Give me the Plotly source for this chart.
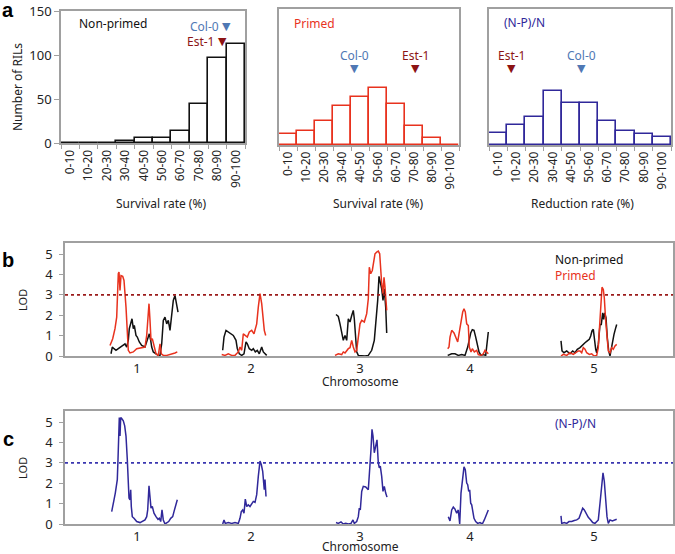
import plotly.graph_objects as go

# ---------------- data ----------------
bins = ["0-10", "10-20", "20-30", "30-40", "40-50", "50-60", "60-70", "70-80", "80-90", "90-100"]
nonprimed_counts = [0, 0, 0, 3, 6, 6, 14, 44, 97, 113]
primed_counts = [12, 15, 26, 43, 53, 63, 45, 21, 8, 0]
reduction_counts = [13, 22, 31, 60, 46, 46, 27, 15, 12, 9]

# parental values (%)
parent_nonprimed = {"Col-0": 90.0, "Est-1": 87.5}
parent_primed = {"Col-0": 42.0, "Est-1": 76.0}
parent_reduction = {"Col-0": 51.0, "Est-1": 12.5}

chrom_names = ["1", "2", "3", "4", "5"]
chrom_tick = [72, 186, 295, 405, 529]
lod_threshold = 3.0

# Non-primed LOD (genome position, LOD)
np_pos_1 = [46.0, 47.3, 49.0, 51.0, 53.3, 55.7, 57.7, 60.0, 61.7, 63.3, 64.3, 65.7, 67.0, 68.3, 69.3, 71.0, 72.3, 74.3, 76.7, 80.0, 82.3, 84.3, 85.7, 86.7, 88.3, 91.0, 93.3, 95.0, 96.7, 98.3, 100.0, 101.7, 103.3, 105.0, 106.7, 108.3, 110.0, 111.7, 113.0]
np_lod_1 = [0.11, 0.44, 0.36, 0.28, 0.36, 0.44, 0.52, 0.60, 0.44, 0.77, 1.34, 1.58, 1.83, 1.34, 1.50, 1.01, 0.93, 0.69, 0.52, 0.44, 0.85, 1.09, 0.77, 0.44, 0.20, 0.11, 0.03, 0.03, 0.60, 1.75, 1.91, 1.58, 1.75, 1.26, 1.91, 2.73, 2.97, 2.57, 2.16]
np_pos_2 = [157.7, 159.0, 161.0, 163.3, 165.7, 168.3, 171.0, 172.3, 174.3, 176.7, 179.0, 181.0, 182.3, 184.3, 186.7, 188.3, 190.3, 192.3, 194.3, 196.7, 198.3, 201.7]
np_lod_2 = [0.28, 0.93, 1.26, 1.18, 1.09, 1.01, 0.77, 0.36, 0.11, 0.03, 0.11, 0.69, 0.60, 0.36, 0.28, 0.36, 0.20, 0.28, 0.11, 0.44, 0.20, 0.03]
np_pos_3 = [271.0, 273.3, 275.0, 276.7, 278.3, 280.0, 281.7, 283.3, 285.0, 286.7, 288.3, 289.3, 290.7, 291.7, 293.3, 296.7, 300.0, 303.3, 306.7, 309.3, 311.0, 312.7, 314.0, 315.0, 316.7, 318.0, 319.3, 320.7, 321.7]
np_lod_3 = [2.04, 1.94, 1.58, 1.18, 0.77, 1.01, 0.77, 1.83, 1.67, 1.99, 2.24, 1.83, 0.77, 0.20, 0.03, 0.00, 0.00, 0.03, 0.28, 0.77, 1.58, 2.73, 3.91, 3.71, 3.30, 2.73, 3.30, 2.40, 1.13]
np_pos_4 = [382.7, 386.7, 390.0, 393.3, 396.7, 400.0, 402.7, 404.3, 405.7, 407.3, 409.0, 410.7, 412.3, 414.0, 416.0, 418.3, 420.7, 422.3, 423.3]
np_lod_4 = [0.03, 0.11, 0.11, 0.03, 0.07, 0.03, 0.44, 0.85, 1.13, 1.29, 1.26, 0.93, 0.52, 0.20, 0.03, 0.07, 0.03, 0.60, 1.18]
np_pos_5 = [496.0, 497.0, 499.0, 501.7, 505.0, 507.7, 510.0, 512.3, 515.0, 517.7, 520.0, 522.3, 524.3, 525.7, 527.0, 528.3, 529.3, 530.7, 531.7, 533.3, 535.0, 536.3, 537.7, 538.7, 539.7, 541.0, 542.3, 543.7, 545.0, 546.3, 547.7, 549.0, 550.3, 551.7]
np_lod_5 = [0.74, 0.25, 0.16, 0.25, 0.11, 0.25, 0.16, 0.33, 0.41, 0.57, 0.65, 0.74, 0.82, 0.98, 1.23, 1.31, 0.74, 0.33, 0.16, 0.57, 1.55, 1.55, 2.12, 1.80, 2.12, 1.88, 0.90, 0.25, 0.00, 0.41, 0.74, 1.06, 1.31, 1.55]

# Primed LOD
pr_pos_1 = [45.0, 47.7, 50.0, 51.7, 53.3, 54.0, 55.0, 56.0, 57.7, 59.0, 61.0, 62.3, 63.3, 65.0, 68.3, 71.7, 76.7, 80.0, 81.7, 84.0, 85.0, 86.0, 87.3, 89.0, 91.0, 93.3, 95.0, 96.3, 98.3, 101.7, 106.7, 110.0, 112.3]
pr_lod_1 = [0.52, 0.85, 1.34, 1.91, 4.04, 4.12, 3.22, 3.95, 3.91, 3.71, 2.40, 0.93, 0.28, 0.15, 0.20, 0.36, 0.41, 0.44, 1.01, 2.57, 1.75, 0.77, 0.85, 0.44, 0.11, 0.03, 0.60, 0.11, 0.03, 0.03, 0.08, 0.15, 0.20]
pr_pos_2 = [156.7, 160.0, 163.3, 166.7, 170.0, 173.3, 175.0, 176.7, 178.3, 180.7, 182.3, 184.3, 186.7, 189.0, 191.7, 193.3, 195.0, 196.7, 198.3, 199.3, 200.7]
pr_lod_2 = [0.07, 0.03, 0.11, 0.03, 0.03, 0.20, 0.44, 0.28, 1.09, 1.01, 0.93, 1.18, 1.26, 1.09, 1.58, 2.40, 3.06, 2.57, 1.91, 1.26, 1.01]
pr_pos_3 = [270.0, 273.3, 276.7, 278.3, 280.0, 281.7, 283.3, 285.0, 286.7, 288.3, 290.0, 291.7, 293.3, 295.0, 296.7, 299.3, 301.7, 303.3, 304.3, 305.7, 307.3, 308.7, 310.0, 311.7, 313.3, 314.7, 315.7, 316.7, 318.0, 319.0, 320.0, 321.0, 321.7]
pr_lod_3 = [0.03, 0.11, 0.07, 0.20, 0.15, 0.28, 0.36, 0.41, 0.77, 0.44, 0.20, 0.28, 0.85, 1.58, 1.75, 1.67, 2.08, 2.81, 4.36, 4.04, 4.20, 4.69, 5.02, 5.10, 5.15, 5.02, 4.04, 3.55, 3.06, 3.87, 3.38, 2.48, 2.24]
pr_pos_4 = [382.7, 384.0, 385.0, 386.7, 389.0, 391.0, 392.7, 394.0, 396.0, 397.7, 399.0, 400.3, 401.7, 403.3, 404.3, 406.0, 407.3, 409.3, 411.7, 413.3, 416.0, 418.3, 420.0, 421.7, 423.3]
pr_lod_4 = [0.36, 0.44, 0.93, 1.26, 1.13, 0.85, 0.69, 1.09, 1.75, 2.16, 2.32, 2.16, 1.58, 1.50, 0.44, 0.20, 0.36, 0.20, 0.28, 0.07, 0.03, 0.11, 0.28, 0.20, 0.11]
pr_pos_5 = [496.0, 498.3, 501.7, 505.0, 508.3, 511.0, 513.3, 515.0, 516.7, 518.3, 520.0, 521.7, 524.3, 526.7, 529.0, 531.7, 533.3, 534.3, 535.7, 537.0, 538.3, 539.3, 540.7, 542.0, 543.3, 545.0, 546.7, 548.3, 550.0, 551.7]
pr_lod_5 = [0.00, 0.08, 0.03, 0.16, 0.08, 0.16, 0.25, 0.25, 0.16, 0.41, 0.33, 0.16, 0.08, 0.11, 0.00, 0.03, 0.41, 1.23, 2.53, 3.38, 3.27, 2.86, 1.72, 0.74, 0.25, 0.16, 0.41, 0.33, 0.49, 0.57]

# (N-P)/N LOD
rd_pos_1 = [46.7, 47.7, 49.0, 50.3, 51.7, 52.3, 53.0, 53.7, 54.3, 55.0, 55.7, 56.7, 58.3, 59.7, 61.0, 62.3, 63.3, 64.0, 65.0, 65.7, 66.3, 67.3, 69.0, 71.7, 75.0, 77.7, 80.0, 81.7, 82.7, 84.0, 85.0, 86.0, 87.3, 89.0, 91.0, 93.0, 94.3, 95.7, 97.0, 98.3, 100.0, 101.7, 103.7, 105.7, 107.7, 109.0, 110.3, 112.3]
rd_lod_1 = [0.61, 0.94, 1.19, 1.52, 2.01, 2.18, 3.17, 4.65, 5.23, 4.32, 5.23, 5.18, 5.07, 4.82, 4.32, 3.17, 1.85, 1.27, 1.19, 1.68, 0.86, 0.36, 0.28, 0.12, 0.07, 0.12, 0.20, 0.36, 0.69, 1.88, 1.35, 0.78, 0.86, 0.53, 0.36, 0.23, 0.28, 0.12, 0.69, 0.20, 0.00, 0.07, 0.12, 0.28, 0.36, 0.61, 0.86, 1.19]
rd_pos_2 = [157.7, 159.0, 160.3, 163.3, 166.7, 170.0, 173.3, 175.0, 176.3, 177.7, 179.0, 180.3, 181.7, 183.3, 185.0, 186.7, 188.3, 190.0, 191.7, 193.3, 195.0, 196.3, 197.7, 198.7, 199.3, 200.0, 201.0]
rd_lod_2 = [0.00, 0.20, 0.03, 0.07, 0.03, 0.07, 0.03, 0.28, 0.61, 0.69, 0.53, 1.22, 0.86, 0.94, 0.86, 1.02, 1.11, 1.06, 1.44, 2.34, 3.09, 2.92, 2.59, 2.01, 1.68, 2.18, 1.35]
rd_pos_3 = [271.0, 273.3, 276.0, 278.3, 280.7, 283.3, 286.0, 288.0, 289.3, 291.7, 293.3, 294.3, 295.3, 296.7, 298.3, 300.7, 303.3, 305.0, 306.0, 307.0, 308.0, 309.3, 310.7, 312.0, 313.3, 314.3, 315.3, 316.7, 318.0, 319.3, 320.7, 322.0]
rd_lod_3 = [0.07, 0.03, 0.10, 0.00, 0.03, 0.00, 0.03, 0.20, 0.03, 0.12, 0.36, 0.78, 0.69, 1.60, 1.85, 1.82, 1.68, 2.67, 3.66, 4.65, 4.32, 3.50, 3.91, 4.13, 3.00, 2.76, 2.84, 2.34, 1.60, 1.85, 1.52, 1.32]
rd_pos_4 = [383.3, 385.0, 386.7, 388.3, 390.0, 391.7, 393.3, 394.7, 396.0, 397.7, 399.0, 400.3, 401.7, 402.7, 403.7, 404.7, 405.7, 406.7, 407.7, 409.0, 410.7, 412.7, 415.0, 417.3, 419.3, 421.0, 423.3]
rd_lod_4 = [0.36, 0.15, 0.69, 0.83, 0.73, 0.53, 0.69, 0.00, 1.52, 2.34, 2.81, 2.67, 2.01, 1.93, 1.60, 1.68, 1.02, 0.94, 0.53, 0.28, 0.12, 0.03, 0.07, 0.00, 0.20, 0.45, 0.69]
rd_pos_5 = [496.0, 496.7, 499.3, 501.7, 504.0, 506.7, 509.3, 511.7, 514.0, 516.0, 517.7, 519.3, 521.7, 523.3, 525.7, 527.7, 530.0, 531.7, 533.3, 535.0, 536.7, 538.0, 539.3, 540.7, 542.0, 543.3, 545.0, 547.3, 549.3, 551.7]
rd_lod_5 = [0.40, 0.03, 0.07, 0.03, 0.12, 0.12, 0.17, 0.20, 0.28, 0.53, 0.78, 0.69, 0.45, 0.33, 0.20, 0.07, 0.03, 0.12, 0.20, 1.02, 2.01, 2.51, 2.10, 1.19, 0.36, 0.03, 0.20, 0.15, 0.20, 0.23]

# ---------------- style ----------------
FONT = "Noto Sans"
BLACK = "#111111"
RED = "#e8321e"
NAVY = "#30289a"
COL0 = "#4f78b4"
EST1 = "#8c1414"
GRID = "#a0a0a0"
W, H = 675, 554


def px(x):
    return x / W


def py(y):
    return 1 - y / H


def join(pos_lists, lod_lists):
    xs, ys = [], []
    for p, l in zip(pos_lists, lod_lists):
        xs += list(p) + [None]
        ys += list(l) + [None]
    return xs, ys


fig = go.Figure()

# ---------- histograms ----------
hist_specs = [
    (nonprimed_counts, BLACK, "x", "y"),
    (primed_counts, RED, "x2", "y2"),
    (reduction_counts, NAVY, "x3", "y3"),
]
for counts, col, xa, ya in hist_specs:
    fig.add_trace(go.Bar(x=bins, y=counts, marker=dict(color="white", line=dict(color=col, width=1.6)),
                         xaxis=xa, yaxis=ya, showlegend=False, hoverinfo="x+y"))

# ---------- LOD curves ----------
x, y = join([np_pos_1, np_pos_2, np_pos_3, np_pos_4, np_pos_5], [np_lod_1, np_lod_2, np_lod_3, np_lod_4, np_lod_5])
fig.add_trace(go.Scatter(x=x, y=y, mode="lines", line=dict(color=BLACK, width=1.5), xaxis="x4", yaxis="y4",
                         showlegend=False, connectgaps=False))
x, y = join([pr_pos_1, pr_pos_2, pr_pos_3, pr_pos_4, pr_pos_5], [pr_lod_1, pr_lod_2, pr_lod_3, pr_lod_4, pr_lod_5])
fig.add_trace(go.Scatter(x=x, y=y, mode="lines", line=dict(color=RED, width=1.5), xaxis="x4", yaxis="y4",
                         showlegend=False, connectgaps=False))
x, y = join([rd_pos_1, rd_pos_2, rd_pos_3, rd_pos_4, rd_pos_5], [rd_lod_1, rd_lod_2, rd_lod_3, rd_lod_4, rd_lod_5])
fig.add_trace(go.Scatter(x=x, y=y, mode="lines", line=dict(color=NAVY, width=1.5), xaxis="x5", yaxis="y5",
                         showlegend=False, connectgaps=False))

tickfont = dict(family=FONT, size=12, color="#222")
hist_x = dict(type="category", tickangle=-90, tickson="boundaries", ticks="outside", ticklen=4,
              tickcolor=GRID, showline=True, linecolor=GRID, linewidth=1.5, mirror=True, automargin=False,
              tickfont=tickfont, showgrid=False, zeroline=False, fixedrange=True)
hist_y = dict(range=[0, 150], showline=True, linecolor=GRID, linewidth=1.5, mirror=True, showgrid=False,
              zeroline=False, automargin=False)

lod_x = dict(range=[0, 608], tickvals=chrom_tick, ticktext=chrom_names, ticks="", showline=True,
             linecolor=GRID, linewidth=1.5, mirror=True, showgrid=False, zeroline=False, automargin=False,
             tickfont=dict(family=FONT, size=13, color="#222"))
lod_y = dict(range=[0, 5.55], tickvals=[0, 1, 2, 3, 4, 5], ticks="outside", ticklen=4, tickcolor=GRID,
             showline=True, linecolor=GRID, linewidth=1.5, mirror=True, showgrid=False, zeroline=False,
             automargin=False, ticklabelstandoff=4,
             tickfont=dict(family=FONT, size=13, color="#222"))

fig.update_layout(
    width=W, height=H, margin=dict(l=0, r=0, t=0, b=0, autoexpand=False),
    paper_bgcolor="white", plot_bgcolor="white", bargap=0, showlegend=False,
    font=dict(family=FONT, size=12, color="#222"),
    xaxis=dict(hist_x, domain=[px(61), px(245)], anchor="y"),
    yaxis=dict(hist_y, domain=[py(143.3), py(11)], anchor="x", ticks="outside", ticklen=5, tickcolor=GRID,
               tickvals=[0, 50, 100, 150], tickfont=dict(family=FONT, size=13, color="#222")),
    xaxis2=dict(hist_x, domain=[px(279), px(459)], anchor="y2"),
    yaxis2=dict(hist_y, domain=[py(145), py(9)], anchor="x2", showticklabels=False, ticks=""),
    xaxis3=dict(hist_x, domain=[px(489), px(671)], anchor="y3"),
    yaxis3=dict(hist_y, domain=[py(145), py(9)], anchor="x3", showticklabels=False, ticks=""),
    xaxis4=dict(lod_x, domain=[px(65), px(673)], anchor="y4"),
    yaxis4=dict(lod_y, domain=[py(356), py(243)], anchor="x4"),
    xaxis5=dict(lod_x, domain=[px(65), px(673)], anchor="y5"),
    yaxis5=dict(lod_y, domain=[py(524), py(411)], anchor="x5"),
)

# threshold lines
fig.add_shape(type="line", xref="x4 domain", x0=0, x1=1, yref="y4", y0=lod_threshold, y1=lod_threshold,
              line=dict(color="#9b1b1b", width=1.6, dash="dot"))
fig.add_shape(type="line", xref="x5 domain", x0=0, x1=1, yref="y5", y0=lod_threshold, y1=lod_threshold,
              line=dict(color="#3a36b0", width=1.6, dash="dot"))

ann = []


def text(x, y, s, size=12, color="#222", xanchor="center", yanchor="middle", angle=0, bold=False, family=FONT):
    if bold:
        s = "<b>" + s + "</b>"
    ann.append(dict(x=px(x), y=py(y), xref="paper", yref="paper", text=s, showarrow=False,
                    font=dict(family=family, size=size, color=color), xanchor=xanchor, yanchor=yanchor,
                    textangle=angle))


# panel letters
text(8, 10, "a", size=20, color="black", bold=True, family="Liberation Sans")
text(8, 260, "b", size=20, color="black", bold=True, family="Liberation Sans")
text(8, 439, "c", size=20, color="black", bold=True, family="Liberation Sans")

# histogram titles / axis titles
text(77, 24, "Non-primed", color=BLACK, xanchor="left")
text(292, 23, "Primed", color=RED, xanchor="left")
text(502, 22, "(N-P)/N", color=NAVY, xanchor="left")
text(17, 87, "Number of RILs", angle=-90)
text(161, 203, "Survival rate (%)")
text(378, 203, "Survival rate (%)")
text(582, 203, "Reduction rate (%)")

# LOD panels text
text(22, 300, "LOD", size=11, angle=-90)
text(22, 468, "LOD", size=11, angle=-90)
text(360, 381, "Chromosome")
text(360, 546, "Chromosome")
text(553, 259, "Non-primed", size=12, color=BLACK, xanchor="left")
text(553, 275, "Primed", size=12, color=RED, xanchor="left")
text(553, 423, "(N-P)/N", size=12, color=NAVY, xanchor="left")

# parental markers
def parent(xa, ya, val, yval, name, color, side):
    idx = val / 10.0 - 0.5
    ann.append(dict(x=idx, y=yval, xref=xa, yref=ya, text="▼", showarrow=False,
                    font=dict(family="DejaVu Sans", size=11, color=color), xanchor="center", yanchor="middle"))
    if side == "left":
        ann.append(dict(x=idx, y=yval, xref=xa, yref=ya, text=name, showarrow=False, xshift=-6,
                        font=dict(family=FONT, size=12, color=color), xanchor="right", yanchor="middle"))
    else:
        ann.append(dict(x=idx, y=yval, xref=xa, yref=ya, text=name, showarrow=False, yshift=13,
                        font=dict(family=FONT, size=12, color=color), xanchor="center", yanchor="middle"))


parent("x", "y", parent_nonprimed["Col-0"], 132, "Col-0", COL0, "left")
parent("x", "y", parent_nonprimed["Est-1"], 115, "Est-1", EST1, "left")
parent("x2", "y2", parent_primed["Col-0"], 84, "Col-0", COL0, "top")
parent("x2", "y2", parent_primed["Est-1"], 84, "Est-1", EST1, "top")
parent("x3", "y3", parent_reduction["Col-0"], 84, "Col-0", COL0, "top")
parent("x3", "y3", parent_reduction["Est-1"], 84, "Est-1", EST1, "top")

fig.update_layout(annotations=ann)
fig.write_html("out.html", config={"displayModeBar": False},
               post_script="document.body.style.margin='0';document.body.style.padding='0';")
